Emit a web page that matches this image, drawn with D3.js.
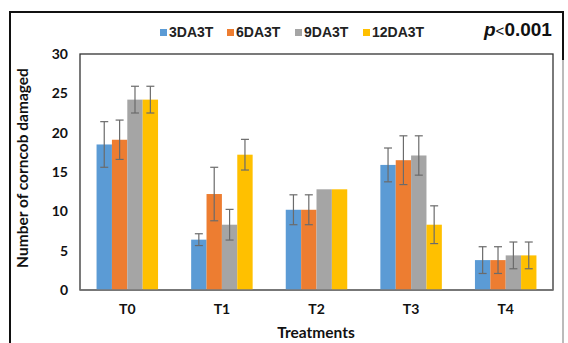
<!DOCTYPE html>
<html><head><meta charset="utf-8">
<script src="https://cdn.jsdelivr.net/npm/d3@7"></script>
<style>body{margin:0;background:#fff}svg{display:block}</style>
</head><body>
<svg id="c" width="568" height="343"></svg>
<script>
const categories = ["T0","T1","T2","T3","T4"];
const seriesNames = ["3DA3T","6DA3T","9DA3T","12DA3T"];
const colors = ["#5B9BD5","#ED7D31","#A5A5A5","#FFC000"];
const s3DA3T  = [18.5, 6.4, 10.2, 15.9, 3.8];
const s6DA3T  = [19.1, 12.2, 10.2, 16.5, 3.8];
const s9DA3T  = [24.2, 8.3, 12.8, 17.1, 4.4];
const s12DA3T = [24.2, 17.2, 12.8, 8.3, 4.4];
const e3DA3T  = [2.9, 0.75, 1.9, 2.15, 1.7];
const e6DA3T  = [2.5, 3.4, 1.9, 3.1, 1.7];
const e9DA3T  = [1.7, 1.95, 0, 2.5, 1.7];
const e12DA3T = [1.7, 1.95, 0, 2.4, 1.7];
const yTicks = [0,5,10,15,20,25,30];

const values = [s3DA3T, s6DA3T, s9DA3T, s12DA3T];
const errors = [e3DA3T, e6DA3T, e9DA3T, e12DA3T];

const svg = d3.select("#c");
const L = 80, R = 553, T = 54, B = 290;
const x = d3.scaleBand().domain(categories).range([L, R]).paddingInner(0.35).paddingOuter(0.175);
const xs = d3.scaleBand().domain(seriesNames).range([0, x.bandwidth()]);
const y = d3.scaleLinear().domain([0, 30]).range([B, T]);

// outer frame
svg.append("rect").attr("x",10).attr("y",12).attr("width",553).attr("height",340)
  .attr("fill","none").attr("stroke","#111").attr("stroke-width",2);
svg.append("line").attr("x1",563).attr("x2",563).attr("y1",60).attr("y2",343)
  .attr("stroke","#bbb").attr("stroke-width",2);

// plot frame
svg.append("rect").attr("x",L).attr("y",T).attr("width",R-L).attr("height",B-T)
  .attr("fill","none").attr("stroke","#333").attr("stroke-width",1.3);

// bars
const data = [];
categories.forEach((c,i)=>seriesNames.forEach((s,j)=>data.push({c,s,j,v:values[j][i],e:errors[j][i]})));
svg.append("g").selectAll("rect").data(data).join("rect")
  .attr("x",d=>x(d.c)+xs(d.s)).attr("width",xs.bandwidth())
  .attr("y",d=>y(d.v)).attr("height",d=>y(0)-y(d.v))
  .attr("fill",d=>colors[d.j]);

// axis baseline
svg.append("line").attr("x1",L).attr("x2",R).attr("y1",B).attr("y2",B).attr("stroke","#777").attr("stroke-width",1.5);

// error bars
const eg = svg.append("g").attr("stroke","#6b6b6b").attr("stroke-width",1.2);
data.filter(d=>d.e>0).forEach(d=>{
  const cx = x(d.c)+xs(d.s)+xs.bandwidth()/2;
  eg.append("line").attr("x1",cx).attr("x2",cx).attr("y1",y(d.v+d.e)).attr("y2",y(d.v-d.e));
  [d.v+d.e, d.v-d.e].forEach(v=>eg.append("line").attr("x1",cx-4).attr("x2",cx+4).attr("y1",y(v)).attr("y2",y(v)));
});

const font = "Lato, 'Open Sans', sans-serif";
// y axis ticks
const ya = d3.axisLeft(y).tickValues(yTicks).tickSize(0).tickPadding(12);
const gy = svg.append("g").attr("transform",`translate(${L},0)`).call(ya);
gy.select(".domain").remove();
gy.selectAll("text").attr("font-family",font).attr("font-weight","bold").attr("font-size",14).attr("fill","#111");

// x axis ticks
const xa = d3.axisBottom(x).tickSize(0).tickPadding(14);
const gx = svg.append("g").attr("transform",`translate(0,${B})`).call(xa);
gx.select(".domain").remove();
gx.selectAll("text").attr("font-family",font).attr("font-weight","bold").attr("font-size",14).attr("fill","#111");

// axis titles
svg.append("text").attr("transform","translate(28,168) rotate(-90)").attr("text-anchor","middle")
  .attr("font-family",font).attr("font-weight","bold").attr("font-size",15.5).attr("fill","#111")
  .text("Number of corncob damaged");
svg.append("text").attr("x",316).attr("y",338).attr("text-anchor","middle")
  .attr("font-family",font).attr("font-weight","bold").attr("font-size",15.5).attr("fill","#111")
  .text("Treatments");

// legend
const legX = [160, 227, 295, 363];
const lg = svg.append("g");
seriesNames.forEach((s,j)=>{
  lg.append("rect").attr("x",legX[j]).attr("y",29).attr("width",7).attr("height",7).attr("fill",colors[j]);
  lg.append("text").attr("x",legX[j]+9).attr("y",37).attr("font-family","'Liberation Sans', Arial, sans-serif")
    .attr("font-weight","bold").attr("font-size",14).attr("fill","#222").text(s);
});

// p-value
const pt = svg.append("text").attr("x",484).attr("y",36).attr("font-family","'Liberation Sans', Arial, sans-serif")
  .attr("font-size",19).attr("fill","#111");
pt.append("tspan").attr("font-weight","bold").attr("font-style","italic").text("p");
pt.append("tspan").attr("font-size",15).text("<");
pt.append("tspan").attr("font-weight","bold").text("0.001");
</script>
</body></html>
